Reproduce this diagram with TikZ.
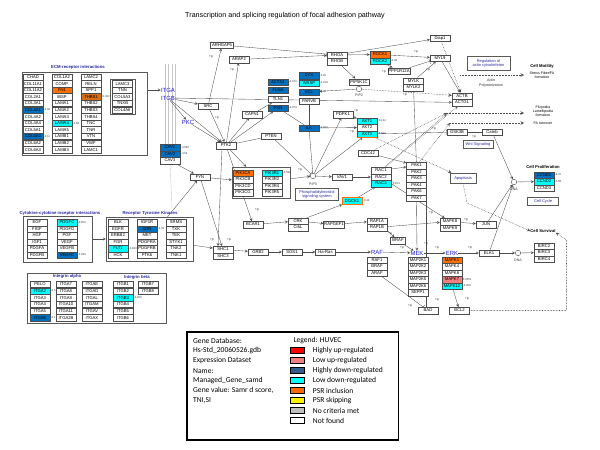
\documentclass[tikz,border=0pt]{standalone}
\usepackage{fontspec}
\setmainfont{Liberation Sans}
\newfontfamily\legendfont{Carlito}
\usetikzlibrary{shapes,shapes.geometric,calc,backgrounds}

\definecolor{dkblue}{RGB}{0,112,192}
\definecolor{cyanc}{RGB}{0,255,255}
\definecolor{orng}{RGB}{255,112,0}
\definecolor{orngdk}{RGB}{214,110,20}
\definecolor{salmon}{RGB}{240,128,128}
\definecolor{legblue}{RGB}{51,90,140}
\definecolor{legorng}{RGB}{255,102,0}
\definecolor{nocrit}{RGB}{191,191,191}
\definecolor{navy}{RGB}{40,40,160}
\definecolor{pathblue}{RGB}{30,30,210}

\begin{document}
\begin{tikzpicture}
	[x=1bp,y=-1bp,>=stealth,
	gene/.style={shape=rectangle,draw=gray!60!black,fill=white,line width=0.35pt,inner sep=0.6pt,
		minimum width=20pt,minimum height=6.5pt,font=\fontsize{4.2}{4.2}\selectfont},
	valtext/.style={anchor=west,inner sep=0.4pt,font=\fontsize{2.8}{2.8}\selectfont,text=gray!40!black},
	plab/.style={inner sep=0pt,font=\fontsize{3.2}{3.2}\selectfont,text=gray!30!black},
	bluelab/.style={inner sep=0pt,font=\fontsize{6}{6}\selectfont,text=pathblue},
	grouplab/.style={inner sep=0pt,font=\bfseries\fontsize{4.3}{4.3}\selectfont,text=navy},
	grpframe/.style={shape=rectangle,draw=gray!70!black,line width=0.5pt,inner sep=0pt},
	infobox/.style={shape=rectangle,draw=gray!70!black,line width=0.6pt,text=navy,align=center,
		font=\fontsize{4}{4.6}\selectfont,inner sep=1pt},
	outcome/.style={inner sep=0pt,align=center,font=\fontsize{3.6}{4.2}\selectfont},
	outhead/.style={inner sep=0pt,font=\bfseries\fontsize{4.2}{4.2}\selectfont},
	mol/.style={shape=circle,draw=gray!60!black,fill=white,minimum size=5.5pt,inner sep=0pt},
	moltext/.style={inner sep=0pt,font=\fontsize{3.6}{3.6}\selectfont,text=gray!40!black},
	link/.style={draw=gray!60!black,line width=0.35pt,->},
	bind/.style={draw=gray!60!black,line width=0.35pt},
	inhib/.style={draw=gray!60!black,line width=0.35pt,-|},
	dotlink/.style={draw=gray!60!black,line width=0.55pt,densely dotted,->},
	swatch/.style={shape=rectangle,draw=black,line width=1.3pt,minimum width=13.5pt,minimum height=6pt,inner sep=0pt},
	legtext/.style={anchor=west,inner sep=0pt,font=\legendfont\fontsize{7.6}{7.6}\selectfont},
	titletext/.style={inner sep=0pt,font=\fontsize{7.2}{7.2}\selectfont}]
	\useasboundingbox (0,0) rectangle (600,450);
	\node[titletext] (title) at (285,16) {Transcription and splicing regulation of focal adhesion pathway};
	
	% ECM-receptor interactions
	\node[grouplab] (ecmlab) at (78,67) {ECM-receptor interactions};
	\node[grpframe,minimum width=125pt,minimum height=83pt] (ecm) at (84.5,113.5) {};
	\node[grpframe,minimum width=25pt,minimum height=35pt] (ecmsub) at (122.5,96.8) {};
	\foreach \name/\shade [count=\i] in {CHAD/white,COL11A1/white,COL11A2/white,COL2A1/white,COL3A1/white,COL4A1/dkblue,
		COL4A2/white,COL4A4/white,COL5A1/white,COL5A2/dkblue,COL6A2/white,COL6A3/white}
	\node[gene,fill=\shade] (ecma\i) at (33,70.4+6.6*\i) {\name};
	\foreach \name/\shade [count=\i] in {COL1A2/white,COMP/white,FN1/orng,IBSP/white,LAMA1/white,LAMA2/white,
		LAMA3/white,LAMA4/cyanc,LAMA5/white,LAMB1/white,LAMB2/white,LAMB3/white}
	\node[gene,fill=\shade] (ecmb\i) at (62,70.4+6.6*\i) {\name};
	\foreach \name/\shade [count=\i] in {LAMC2/white,RELN/white,SPP1/white,THBS1/orngdk,THBS2/white,THBS3/white,
		THBS4/white,TNC/white,TNR/white,VTN/white,VWF/white,LAMC1/white}
	\node[gene,fill=\shade] (ecmc\i) at (91,70.4+6.6*\i) {\name};
	\foreach \name [count=\i] in {LAMC3,TNN,COL5A3,TNXB,COL4A6}
	\node[gene] (ecmd\i) at (122.5,77+6.6*\i) {\name};
	\node[valtext] (ecmv1) at (43.3,110) {-4.02};
	\node[valtext] (ecmv2) at (72.2,123.2) {-4.83};
	\node[valtext] (ecmv3) at (43.3,136.4) {-4.11};
	\node[valtext] (ecmv4) at (101.2,96.8) {-5.302};
	
	% receptors at the membrane
	\node[bluelab] (itga) at (168,90) {ITGA};
	\node[bluelab] (itgb) at (168,98) {ITGB};
	\node[bluelab] (pkc) at (188,122) {PKC};
	\node[gene,fill=dkblue] (cav1) at (170,147.5) {CAV1};
	\node[gene,fill=dkblue] (cav2) at (170,154) {CAV2};
	\node[gene] (cav3) at (170,160.5) {CAV3};
	\node[valtext] (cavv1) at (180.5,147.5) {-4.564};
	\node[valtext] (cavv2) at (180.5,154) {-4.54};
	\coordinate (memb) at (172,208);
	
	% focal adhesion core
	\node[gene] (src) at (208,106) {SRC};
	\node[gene] (ptk2) at (226,145.5) {PTK2};
	\node[gene] (fyn) at (200,177) {FYN};
	\node[gene,minimum width=23pt] (arhgap5) at (222,45) {ARHGAP5};
	\node[gene] (arap2) at (239,59.5) {ARAP2};
	\node[gene] (capn1) at (252,114.5) {CAPN1};
	\node[gene] (pten) at (271,136) {PTEN};
	\node[gene,fill=dkblue] (actn1) at (278,82) {ACTN1};
	\node[gene,fill=dkblue] (flna) at (278,90) {FLNA};
	\node[gene] (tln1) at (278,99) {TLN1};
	\node[gene,fill=dkblue] (pxn) at (278,108) {PXN};
	\node[valtext] (actnv) at (288.3,82) {-4.150};
	\node[valtext] (pxnv) at (288.3,108) {-4.079};
	\node[gene,fill=dkblue] (zyx) at (309,75.5) {ZYX};
	\node[gene,fill=cyanc] (wasp) at (309,83) {WASP};
	\node[gene,fill=dkblue] (vcl) at (309,92) {VCL};
	\node[gene] (parvb) at (309,101) {PARVB};
	\node[gene,fill=dkblue] (ilk) at (309,128) {ILK};
	\node[valtext] (zyxv) at (319.3,75.5) {-3.25};
	\node[valtext] (waspv) at (319.3,83) {-4.159};
	\node[valtext] (vclv) at (319.3,92) {-4.45};
	\node[valtext] (ilkv) at (319.3,128) {-4.022};
	
	% Rho branch
	\node[gene] (rhoa) at (337,55) {RHOA};
	\node[gene] (rhob) at (337,61.5) {RHOB};
	\node[gene,fill=orng] (rock1) at (380,54.5) {ROCK1};
	\node[gene,fill=cyanc] (rock2) at (380,61) {ROCK2};
	\node[valtext] (rockv) at (390.3,61) {-4.38};
	\node[gene] (ppp) at (399,71) {PPP1R12A};
	\node[gene] (pip5k) at (359,82) {PIP5K1C};
	\node[mol] (pip2) at (359,89) {};
	\node[moltext] (pip2txt) at (359,95.5) {PIP2};
	\node[gene] (diap1) at (440,38) {Diap1};
	\node[gene] (myl9) at (440,58) {MYL9};
	\node[gene] (mylk) at (413.5,81) {MYLK};
	\node[gene] (mylk2) at (413.5,87.5) {MYLK2};
	\node[gene] (actb) at (462,96) {ACTB};
	\node[gene] (actg1) at (462,102.5) {ACTG1};
	\node[infobox,minimum width=43pt,minimum height=14pt] (regact) at (488.5,63.5) {Regulation of\\actin cytoskeleton};
	\node[outcome,text=gray!30!black] (actpol) at (491,83) {Actin\\Polymerization};
	
	% PI3K / AKT branch
	\node[gene] (pdpk1) at (343,114.5) {PDPK1};
	\node[gene,fill=cyanc] (akt1) at (367,121) {AKT1};
	\node[gene] (akt2) at (367,127.5) {AKT2};
	\node[gene,fill=cyanc] (akt3) at (367,134) {AKT3};
	\draw[orng,line width=0.9pt] (akt3.south west) -- (akt3.south east);
	\node[valtext] (akt1v) at (377.3,121) {-3.134};
	\node[valtext] (akt3v) at (377.3,134) {-3.601};
	\node[gene] (gsk3b) at (457,132) {GSK3B};
	\node[gene] (catnb) at (492,132) {Catnb};
	\node[infobox,minimum width=30pt,minimum height=8pt] (wnt) at (478,144) {Wnt Signaling};
	\node[grpframe,minimum width=58pt,minimum height=31pt] (pikbox) at (261,182.5) {};
	\foreach \name/\shade [count=\i] in {PIK3CA/orng,PIK3CB/white,PIK3CD/white,PIK3CG/white}
	\node[gene,fill=\shade] (pika\i) at (243,166.5+6.5*\i) {\name};
	\foreach \name/\shade [count=\i] in {PIK3R1/cyanc,PIK3R2/white,PIK3R4/white,PIK3R5/white}
	\node[gene,fill=\shade] (pikb\i) at (272,166.5+6.5*\i) {\name};
	\node[valtext] (pikv) at (282.3,173) {-3.598};
	\node[mol] (pip3) at (313,176) {};
	\node[moltext] (pip3txt) at (313,184) {PIP3};
	\node[infobox,minimum width=43pt,minimum height=12pt] (pisig) at (317,194.5) {Phosphatidylinositol\\signaling system};
	\node[gene] (vav1) at (342,177) {VAV1};
	\node[gene,fill=cyanc,draw=orng,line width=0.8pt] (dock1) at (352,201) {DOCK1};
	\node[valtext] (dockv) at (362.5,201) {-3.44};
	\node[gene] (cdc42) at (368,153) {CDC42};
	\node[gene] (rac1) at (381,170.5) {RAC1};
	\node[gene] (rac2) at (381,177) {RAC2};
	\node[gene,fill=cyanc] (rac3) at (381,183.5) {RAC3};
	\node[valtext] (racv) at (391.3,183.5) {-3.813};
	\foreach \name [count=\i] in {PAK1,PAK2,PAK3,PAK4,PAK6,PAK7}
	\node[gene] (pak\i) at (416.5,159+6.5*\i) {\name};
	\node[infobox,minimum width=26pt,minimum height=10pt] (apop) at (463,178) {Apoptosis};
	
	% MAPK cascade
	\node[gene] (bcar1) at (253,224.5) {BCAR1};
	\node[gene] (crk) at (298,221) {CRK};
	\node[gene] (crkl) at (298,227.5) {CrkL};
	\node[gene] (rapgef1) at (334,224.5) {RAPGEF1};
	\node[gene] (rap1a) at (377,221) {RAP1A};
	\node[gene] (rap1b) at (377,227.5) {RAP1B};
	\node[gene,minimum width=15pt] (braf2) at (398,240.5) {BRAF};
	\node[gene] (shc1) at (223,249.5) {SHC1};
	\node[gene] (shc3) at (223,256) {SHC3};
	\node[gene] (grb2) at (258,252) {GRB2};
	\node[gene] (sos1) at (292,252) {SOS1};
	\node[gene] (hras) at (325.5,252) {Ha-Ras};
	\node[bluelab] (raf) at (377,252) {RAF};
	\node[gene] (raf1) at (377,260) {RAF1};
	\node[gene] (braf) at (377,266.5) {BRAF};
	\node[gene] (araf) at (377,273) {ARAF};
	\node[bluelab] (mek) at (417,253) {MEK};
	\node[bluelab] (erk) at (452,253) {ERK};
	\foreach \name [count=\i] in {MAP2K1,MAP2K2,MAP2K3,MAP2K5,MAP2K6,SEPP1}
	\node[gene] (mapkk\i) at (418,253.5+6.5*\i) {\name};
	\foreach \name/\shade [count=\i] in {MAPK1/orng,MAPK4/white,MAPK6/white,MAPK7/salmon,MAPK12/cyanc}
	\node[gene,fill=\shade] (mapk\i) at (452,253.5+6.5*\i) {\name};
	\node[valtext] (mapkv1) at (462.3,279.5) {3.0551};
	\node[valtext] (mapkv2) at (462.3,286) {-4.006};
	\node[gene] (bad) at (428,310.5) {BAD};
	\node[gene] (bcl2) at (459.5,310.5) {BCL2};
	\node[gene] (mapk8) at (450,221.5) {MAPK8};
	\node[gene] (mapk9) at (450,228) {MAPK9};
	\node[gene] (jun) at (486,224.5) {JUN};
	\node[gene] (elk1) at (489,253) {ELK1};
	\node[mol] (dna1) at (514,182) {};
	\node[moltext] (dna1txt) at (514,189.5) {DNA};
	\node[mol] (dna2) at (518,253) {};
	\node[moltext] (dna2txt) at (518,260.5) {DNA};
	
	% outcomes
	\node[outhead] (motil) at (542,66) {Cell Motility};
	\node[outcome] (stress) at (542,75) {Stress Fiber/FA\\formation};
	\node[outcome] (filo) at (543,111) {Filopodia\\Lamellipodia\\formation};
	\node[outcome] (faturn) at (543,123) {FA turnover};
	\node[outhead] (prolif) at (543,167) {Cell Proliferation};
	\node[gene,fill=dkblue] (ccnd1) at (544,175) {CCND1};
	\node[gene,fill=cyanc] (ccnd2) at (544,181.5) {CCND2};
	\node[gene] (ccnd3) at (544,188) {CCND3};
	\node[valtext] (ccndv1) at (554.3,175) {-4.47};
	\node[valtext] (ccndv2) at (554.3,181.5) {-3.58};
	\node[infobox,minimum width=31pt,minimum height=8pt] (cycle) at (543,201) {Cell Cycle};
	\node[outhead] (surv) at (543,231) {Cell Survival};
	\node[gene] (birc2) at (544,246) {BIRC2};
	\node[gene] (birc3) at (544,252.5) {BIRC3};
	\node[gene] (birc4) at (544,259) {BIRC4};
	\coordinate (motA) at (460,75);
	\coordinate (motB) at (524,75);
	\coordinate (filoA) at (447,113);
	\coordinate (filoB) at (524,113);
	\coordinate (faA) at (450,123);
	\coordinate (faB) at (524,123);
	\coordinate (apopA) at (467,203);
	\coordinate (survA) at (566.5,310.5);
	\coordinate (survB) at (566.5,240);
	
	% cytokines and receptor tyrosine kinases
	\node[grouplab] (cytolab) at (60,213) {Cytokine-cytokine receptor interactions};
	\node[grpframe,minimum width=69pt,minimum height=46pt] (cyto) at (57.5,239) {};
	\foreach \name [count=\i] in {EGF,FIGF,HGF,IGF1,PDGFA,PDGFB}
	\node[gene] (cytoa\i) at (37,216+6.5*\i) {\name};
	\foreach \name/\shade [count=\i] in {PDGFC/cyanc,PDGFD/white,PGF/white,VEGF/white,VEGFB/white,VEGFC/dkblue}
	\node[gene,fill=\shade] (cytob\i) at (67,216+6.5*\i) {\name};
	\node[valtext] (cytov1) at (77.3,222.5) {-3.550};
	\node[valtext] (cytov2) at (77.3,255) {-4.035};
	\node[grouplab] (rtklab) at (150,213) {Receptor Tyrosine Kinases};
	\node[grpframe,minimum width=87pt,minimum height=44pt] (rtk) at (149.5,239) {};
	\foreach \name/\shade [count=\i] in {BLK/white,EGFR/white,ERBB2/white,FGR/white,FLT1/cyanc,HCK/white}
	\node[gene,fill=\shade] (rtka\i) at (118,216+6.5*\i) {\name};
	\foreach \name/\shade [count=\i] in {IGF1R/white,KDR/dkblue,MET/white,PDGFRA/white,PDGFRB/white,PTK6/white}
	\node[gene,fill=\shade] (rtkb\i) at (147,216+6.5*\i) {\name};
	\foreach \name [count=\i] in {SRMS,TXK,TEK,STYK1,TNK2,TNK1}
	\node[gene] (rtkc\i) at (176,216+6.5*\i) {\name};
	\node[valtext] (rtkv1) at (157.3,229) {-4.33};
	\node[valtext] (rtkv2) at (128.3,248.5) {-3.820};
	
	% integrins
	\node[grpframe,minimum width=140pt,minimum height=50pt] (integ) at (97,298) {};
	\node[grouplab] (alphalab) at (67,276.5) {Integrin alpha};
	\node[grouplab] (betalab) at (137,277.5) {Integrin beta};
	\foreach \name/\shade [count=\i] in {PELO/white,ITGA2/cyanc,ITGA3/white,ITGA4/white,ITGA5/white,ITGA6/dkblue}
	\node[gene,fill=\shade] (intga\i) at (40,277.6+6.7*\i) {\name};
	\foreach \name [count=\i] in {ITGA7,ITGA8,ITGA9,ITGA10,ITGA11,ITGA2B}
	\node[gene] (intgb\i) at (66,277.6+6.7*\i) {\name};
	\foreach \name [count=\i] in {ITGAE,ITGAD,ITGAL,ITGAM,ITGAV,ITGAX}
	\node[gene] (intgc\i) at (92,277.6+6.7*\i) {\name};
	\foreach \name/\shade [count=\i] in {ITGB1/white,ITGB2/white,ITGB3/cyanc,ITGB4/white,ITGB5/white,ITGB6/white}
	\node[gene,fill=\shade] (intgd\i) at (123,277.6+6.7*\i) {\name};
	\foreach \name [count=\i] in {ITGB7,ITGB8}
	\node[gene] (intge\i) at (148,277.6+6.7*\i) {\name};
	\node[valtext] (intgv1) at (50.2,291) {-3.5};
	\node[valtext] (intgv2) at (50.2,318) {-4.1};
	\node[valtext] (intgv3) at (133.3,297.7) {-4.000};
	
	% phosphorylation marks
	\foreach \x/\y [count=\i] in {211/57,232/70,217/118,416/52,384/72,428/70,352/132,356/111,300/170,212/240,
		229/240,257/210,390/234,402/248,437/248,470/248,431/213,466/220,426/244,474/137,434/129,410/306,
		437/300,467/299,405/95}
	\node[plab] (p\i) at (\x,\y) {+p};
	
	% legend
	\node[grpframe,draw=black,line width=1.4pt,minimum width=212pt,minimum height=108.6pt] (legend) at (292.7,386) {};
	\foreach \txt [count=\i] in {Gene Database:,Hs-Std\_20060526.gdb,Expression Dataset,Name:,
		Managed\_Gene\_samd,{Gene value: Samr d score,},{TNI,SI}}
	\node[legtext] (info\i) at (193,330.7+10*\i) {\txt};
	\node[legtext] (leghead) at (293.3,340.7) {Legend: HUVEC};
	\foreach \shade/\txt [count=\i] in {red/Highly up-regulated,salmon/Low up-regulated,legblue/Highly down-regulated,
		cyanc/Low down-regulated,legorng/PSR inclusion,yellow/PSR skipping,nocrit/No criteria met,white/Not found}
	{
		\node[swatch,fill=\shade] (sw\i) at (297.5,340.7+10*\i) {};
		\node[legtext] (swt\i) at (312.7,340.7+10*\i) {\txt};
	}
	
	\begin{pgfonlayer}{background}
		\foreach \x in {165,168,172,175}
		\draw[gray!45,line width=0.4pt] (\x,64) -- (\x,163);
		\draw[bind,gray!45] (cav3) -- (memb);
		\draw[link] (ecm.east |- itga) -- (itga.west);
		\path
		\foreach \startNode/\endNode in {itgb/src,itgb/pkc,itgb/ptk2,pkc/ptk2,src/ptk2,src/arhgap5,ptk2/arap2,
			arap2/rhoa,rhoa/rock1,rhob/pip5k,pip5k/pip2,pip2/vcl,rhoa/diap1,rock1/myl9,rock2/ppp,mylk/myl9,
			myl9/actb,ptk2/capn1,capn1/tln1,ptk2/pxn,ilk/akt2,pdpk1/akt1,pip3/pdpk1,pip3/akt3,ptk2/pikbox,
			fyn/pikbox,cav3/fyn,pikbox/pip3,pip3/vav1,vav1/rac2,dock1/rac3,crk/dock1,bcar1/crk,crk/rapgef1,
			rapgef1/rap1a,rap1a/braf2,braf2/mek,ptk2/bcar1,fyn/shc1,rtk/shc1,cyto/rtk,rtk/fyn,shc1/grb2,
			grb2/sos1,sos1/hras,hras/raf,raf/mek,mek/erk,erk/elk1,elk1/dna2,dna2/birc3,cdc42/pak1,rac1/pak1,
			rac2/mapk8,pak6/mek,rap1b/mapk8,mapk8/jun,jun/dna1,elk1/dna1,catnb/dna1,dna1/ccnd2,mapk5/bcl2,
			itgb/actg1}
		{
			(\startNode) edge[link] (\endNode)
		};
		\path
		\foreach \startNode/\endNode in {arhgap5/rhoa,ppp/myl9,pten/pip3,pten/ptk2,gsk3b/catnb,akt3/gsk3b,
			pak1/mylk2,araf/bad}
		{
			(\startNode) edge[inhib] (\endNode)
		};
		\path
		\foreach \startNode/\endNode in {diap1/actb,akt3/apop,cdc42/filoA,rac1/filoA,pak1/faA,pip2/actb,
			motA/motB,filoA/filoB,faA/faB,rac1/actg1}
		{
			(\startNode) edge[dotlink] (\endNode)
		};
		\path
		\foreach \startNode/\endNode in {pxn/ilk,parvb/ilk,ilk/pip3}
		{
			(\startNode) edge[bind] (\endNode)
		};
		\draw[link] ($(ptk2.south)+(-4,0)$) -- ($(shc1.north)+(-5,0)$);
		\draw[inhib] (pak6.south east) -- (pak6.south east |- bad.north);
		\draw[dotlink] (apop.south) -- (apopA) -- (surv.west);
		\draw[dotlink] (bcl2.east) -- (survA) -- (survB) -- (surv.south east);
	\end{pgfonlayer}
\end{tikzpicture}
\end{document}
